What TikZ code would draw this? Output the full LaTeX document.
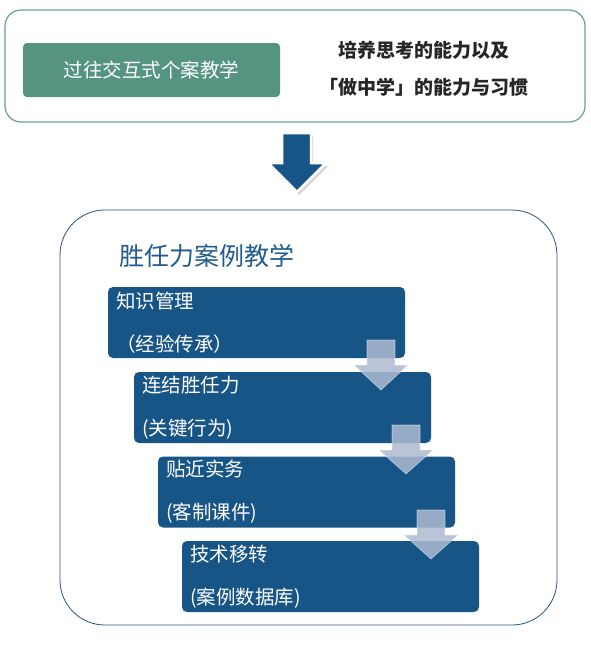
\documentclass[tikz,border=0pt]{standalone}
\usepackage{fontspec}
\setmainfont{Noto Sans CJK SC}
\usetikzlibrary{positioning, shadows}

\definecolor{frameGreen}{HTML}{67A48D}
\definecolor{caseGreen}{HTML}{559480}
\definecolor{stepBlue}{HTML}{175587}
\definecolor{titleBlue}{HTML}{1F5C8F}
\definecolor{frameBlue}{HTML}{2B527D}
\definecolor{arrowGray}{HTML}{AEBAD2}

\begin{document}
\begin{tikzpicture}[
    x=1pt, y=-1pt,
    frame/.style = {rectangle, draw=frameGreen, line width=1.2pt, rounded corners=16pt, minimum width=580pt, minimum height=112pt},
    oldcase/.style = {rectangle, fill=caseGreen, rounded corners=4pt, minimum width=257pt, minimum height=54pt, text=white, font=\fontsize{19.5}{22}\selectfont},
    note/.style = {text=black!85, font=\fontsize{19}{22}\selectfont\bfseries},
    bigframe/.style = {rectangle, draw=frameBlue, line width=0.8pt, rounded corners=45pt, minimum width=497pt, minimum height=415pt},
    stepbox/.style = {rectangle, fill=stepBlue, rounded corners=5pt, minimum width=297pt, minimum height=71pt, text width=281pt, align=left, text=white, font=\fontsize{19.5}{43}\selectfont},
    bigarrow/.style = {fill=stepBlue, draw=white, line width=2.5pt, line join=miter, drop shadow={shadow xshift=2pt, shadow yshift=-3pt, opacity=0.35}},
    stepline/.style = {fill=arrowGray, fill opacity=0.85, draw=white, draw opacity=0.5, line width=0.6pt},
]
\useasboundingbox (0,0) rectangle (591,645);

% Old approach
\node [frame] (top) at (295,66) {};
\node [oldcase] (oldcase) at (151.5,70) {过往交互式个案教学};
\node [note] (goal1) at (424,50) {培养思考的能力以及};
\node [note] (goal2) at (424,87) {「做中学」的能力与习惯};

% Down arrow
\coordinate (bigtip) at (297,192);
\path [bigarrow] (282,133) -- (311,133) -- (311,163) -- (326,163) -- (bigtip) -- (268,163) -- (282,163) -- cycle;

% Competency based case teaching
\node [bigframe] (bottom) at (308.5,417.5) {};
\node [anchor=west, text=titleBlue, font=\fontsize{25}{29}\selectfont] (title) at (116,256) {胜任力案例教学};

\node [stepbox] (km) at (256.5,322.5) {知识管理\\（经验传承）};
\node [stepbox] (comp) at (282.5,407.5) {连结胜任力\\(关键行为)};
\node [stepbox] (prac) at (306.5,492) {贴近实务\\(客制课件)};
\node [stepbox] (tech) at (330.5,576.5) {技术移转\\(案例数据库)};

% Step arrows
\path [stepline] (367,340) -- (395,340) -- (395,365) -- (408,365) -- (381,390) -- (354,365) -- (367,365) -- cycle;
\path [stepline] (392,425) -- (420,425) -- (420,450) -- (433,450) -- (406,474) -- (379,450) -- (392,450) -- cycle;
\path [stepline] (417,510) -- (445,510) -- (445,535) -- (458,535) -- (431,559) -- (404,535) -- (417,535) -- cycle;

\end{tikzpicture}
\end{document}
